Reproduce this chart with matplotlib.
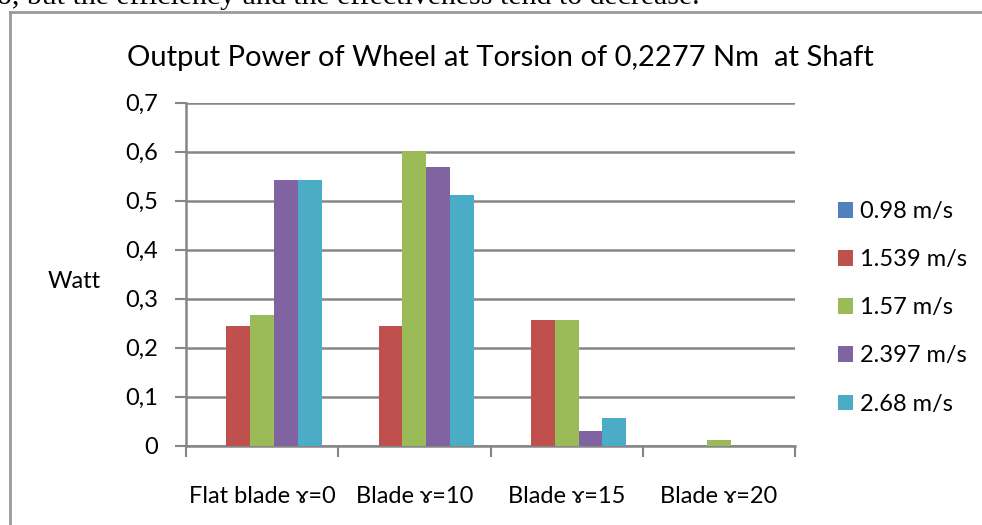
import matplotlib
matplotlib.use("Agg")
import matplotlib.pyplot as plt
import numpy as np

categories = ["Flat blade ɤ=0", "Blade ɤ=10", "Blade ɤ=15", "Blade ɤ=20"]
series_names = ["0.98 m/s", "1.539 m/s", "1.57 m/s", "2.397 m/s", "2.68 m/s"]
v098 = [0, 0, 0, 0]
v1539 = [0.244, 0.244, 0.256, 0]
v157 = [0.267, 0.601, 0.256, 0.012]
v2397 = [0.542, 0.569, 0.029, 0]
v268 = [0.542, 0.512, 0.056, 0]
yticks = [0, 0.1, 0.2, 0.3, 0.4, 0.5, 0.6, 0.7]
ytick_labels = ["0", "0,1", "0,2", "0,3", "0,4", "0,5", "0,6", "0,7"]
colors = ["#4F81BD", "#C0504D", "#9BBB59", "#8064A2", "#4BACC6"]

plt.rcParams['font.family'] = ['Lato', 'DejaVu Sans']
grey = "#868686"

fig = plt.figure(figsize=(9.82, 5.25), dpi=100)
ax = fig.add_axes([186 / 982, 1 - 445.7 / 525, 609 / 982, 343 / 525])

x = np.arange(len(categories))
bw = 0.156
values = [v098, v1539, v157, v2397, v268]
for i, (vals, name, c) in enumerate(zip(values, series_names, colors)):
    ax.bar(x + (i - 2) * bw, vals, width=bw, color=c, label=name, zorder=3)

ax.set_xlim(-0.5, len(categories) - 0.5)
ax.set_ylim(0, 0.7)
ax.set_yticks(yticks)
ax.set_yticklabels(ytick_labels, fontsize=17)
ax.set_xticks(x)
ax.set_xticklabels(categories, fontsize=17)
ax.set_xticks(np.arange(-0.5, len(categories)), minor=True)
ax.tick_params(axis='x', which='major', length=0, pad=29)
ax.tick_params(axis='x', which='minor', length=8, width=1.5, color=grey)
ax.tick_params(axis='y', length=8, width=1.5, color=grey, pad=12)

ax.grid(axis='y', color=grey, linewidth=1.8, zorder=0)
for s in ['top', 'right']:
    ax.spines[s].set_visible(False)
for s in ['left', 'bottom']:
    ax.spines[s].set_color(grey)
    ax.spines[s].set_linewidth(1.8)

fig.text(500 / 982, 1 - 58 / 525, "Output Power of Wheel at Torsion of 0,2277 Nm  at Shaft",
         ha='center', va='center', fontsize=21)
fig.text(74 / 982, 1 - 282 / 525, "Watt", ha='center', va='center', fontsize=17)

fig.legend(loc='upper left', bbox_to_anchor=(838 / 982, 1 - 201 / 525),
           frameon=False, fontsize=17, handlelength=0.64, handleheight=0.64,
           handletextpad=0.3, labelspacing=1.15, borderpad=0, borderaxespad=0)

# chart frame and the cut-off sentence above it
fig.add_artist(plt.Line2D([9.5 / 982, 9.5 / 982], [0, 1 - 11.5 / 525],
                          color="#9a9a9a", linewidth=2, transform=fig.transFigure))
fig.add_artist(plt.Line2D([9.5 / 982, 1], [1 - 11.5 / 525, 1 - 11.5 / 525],
                          color="#9a9a9a", linewidth=2, transform=fig.transFigure))
fig.text(-3 / 982, 1 - 4.5 / 525, "o, but the efficiency and the effectiveness tend to decrease.",
         ha='left', va='baseline', fontsize=21.5, family='Liberation Serif')

fig.savefig("out.png", dpi=100)
